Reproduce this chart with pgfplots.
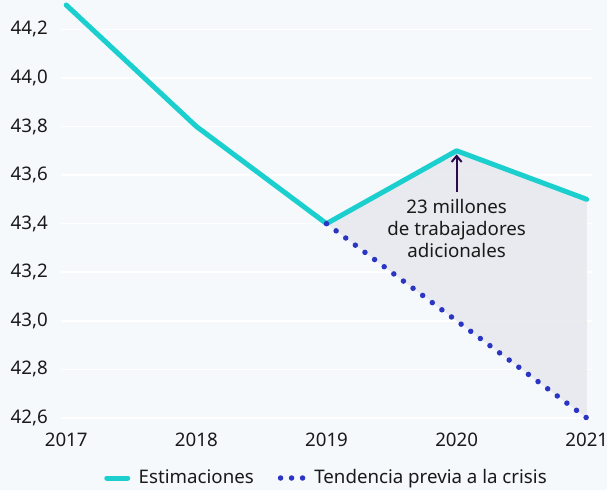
\documentclass[border=0pt]{standalone}
\usepackage{fontspec}
\setmainfont{Noto Sans}
\usepackage{pgfplots}
\pgfplotsset{compat=1.18}
\usetikzlibrary{arrows.meta}
\definecolor{bg}{HTML}{F5F9FC}
\definecolor{cyanl}{HTML}{1CCFCF}
\definecolor{bluedot}{HTML}{2B35C4}
\definecolor{shade}{HTML}{E8E9EE}
\definecolor{arrowc}{HTML}{2A0B4D}
\definecolor{txt}{HTML}{1A1A1A}
\begin{document}
\fontsize{18.7bp}{22bp}\selectfont
\begin{tikzpicture}
\fill[bg] (-61bp,-72bp) rectangle (546bp,418bp);
\useasboundingbox (-61bp,-72bp) rectangle (546bp,418bp);
\begin{axis}[
  at={(0,0)}, anchor=south west,
  scale only axis, width=531bp, height=413bp,
  xmin=2016.96, xmax=2021.04, ymin=42.6, ymax=44.3,
  clip=false,
  axis line style={draw=none},
  tick style={draw=none},
  ytick={42.6,42.8,43.0,43.2,43.4,43.6,43.8,44.0,44.2},
  yticklabel style={/pgf/number format/use comma, /pgf/number format/fixed, /pgf/number format/fixed zerofill, /pgf/number format/precision=1, /pgf/number format/assume math mode=true, inner sep=0pt, xshift=-13bp, text=txt},
  xtick={2017,2018,2019,2020,2021},
  xticklabels={2017,2018,2019,2020,2021},
  xticklabel style={inner sep=0pt, yshift=-15bp, text=txt},
  ymajorgrids, grid style={white, line width=1.5bp},
  legend columns=2,
  legend style={at={(0.5,-0.1453)}, anchor=center, draw=none, fill=none, text=txt,
    /tikz/every odd column/.append style={column sep=6.5bp},
    /tikz/every even column/.append style={column sep=22bp}},
]
\addplot[fill=shade, fill opacity=0.9, draw=none, forget plot] coordinates {(2019,43.4) (2020,43.7) (2021,43.5) (2021,42.6) (2019,43.4)};
\addplot[cyanl, line width=5bp, line cap=round, line join=round,
  legend image code/.code={\draw[cyanl, line width=5bp, line cap=round] (0bp,0bp) -- (21bp,0bp);}]
  coordinates {(2017,44.3) (2018,43.8) (2019,43.4) (2020,43.7) (2021,43.5)};
\addlegendentry{Estimaciones}
\addplot[bluedot, line width=5.5bp, line cap=round, dash pattern=on 0bp off 12bp,
  legend image code/.code={\draw[bluedot, line width=5.5bp, line cap=round, dash pattern=on 0bp off 11bp] (0bp,0bp) -- (22.5bp,0bp);}]
  coordinates {(2019,43.4) (2020,43.0) (2021,42.6)};
\addlegendentry{Tendencia previa a la crisis}
\draw[-{Straight Barb[length=6bp,width=10bp]}, arrowc, line width=2bp] (axis cs:2020,43.53) -- (axis cs:2020,43.685);
\node[align=center, anchor=north, inner sep=0pt, text=txt] at (axis cs:2020,43.50) {23 millones\\de trabajadores\\adicionales};
\end{axis}
\end{tikzpicture}
\end{document}
